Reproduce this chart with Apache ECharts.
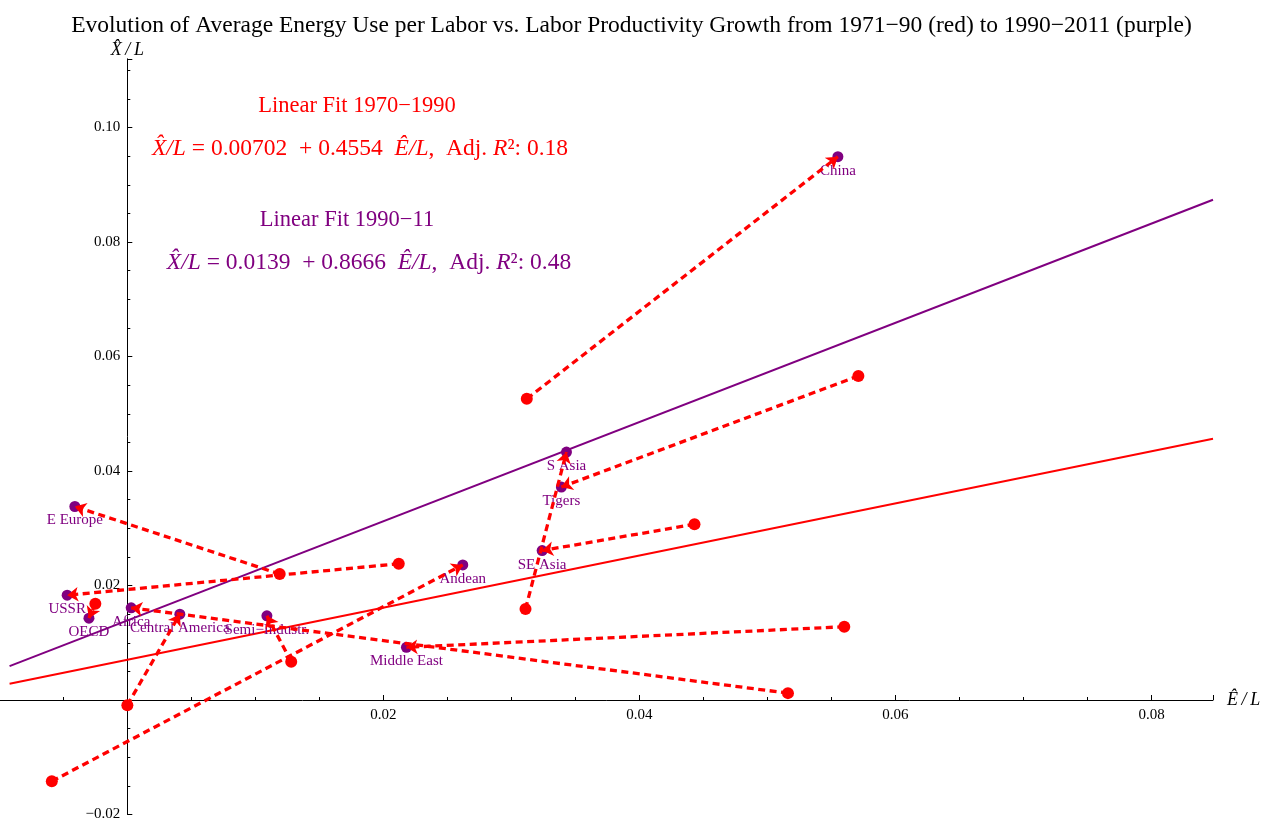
<!DOCTYPE html>
<html>
<head>
<meta charset="utf-8">
<script src="https://cdn.jsdelivr.net/npm/echarts@6/dist/echarts.min.js"></script>
<style>
html,body{margin:0;padding:0;background:#fff;}
#chart{width:1263px;height:821px;}
</style>
</head>
<body>
<div id="chart"></div>
<script>
// ---- data ----
const regions = ['China','Tigers','S Asia','SE Asia','Middle East','Andean','Semi\u2212Industr.','Central America','Africa','E Europe','USSR','OECD'];
// 1971-90 (red): energy use per labor growth (E/L) and labor productivity growth (X/L)
const e7190 = [0.0312, 0.0571, 0.0311, 0.0443, 0.0560, -0.0059, 0.0128, 0.0000, 0.0516, 0.0119, 0.0212, -0.0025];
const x7190 = [0.0526, 0.0566, 0.0159, 0.0307, 0.0128, -0.0142, 0.0067, -0.0009, 0.0012, 0.0220, 0.0238, 0.0168];
// 1990-2011 (purple)
const e9011 = [0.0555, 0.0339, 0.0343, 0.0324, 0.0218, 0.0262, 0.0109, 0.0041, 0.0003, -0.0041, -0.0047, -0.0030];
const x9011 = [0.0949, 0.0372, 0.0433, 0.0261, 0.0092, 0.0236, 0.0147, 0.0150, 0.0161, 0.0338, 0.0183, 0.0143];
// linear fits: intercept, slope
const fitRed = [0.00702, 0.4554];
const fitPurple = [0.0139, 0.8666];
const fitRange = [-0.0092, 0.0848];
// labelled ticks
const xTicks = [0.02, 0.04, 0.06, 0.08];
const yTicks = [-0.02, 0.02, 0.04, 0.06, 0.08, 0.10];

const RED = '#ff0000', PURPLE = '#800080';
const SERIF = '"Liberation Serif", "Times New Roman", serif';

function isTick(v, list){ return list.some(t => Math.abs(t - v) < 1e-9); }
function fmt(v){ return (v < 0 ? '\u2212' : '') + Math.abs(v).toFixed(2); }

const redPts = e7190.map((v,i)=>[v, x7190[i]]);
const purplePts = e9011.map((v,i)=>({value:[v, x9011[i]], name: regions[i]}));
const arrows = regions.map((r,i)=>({coords:[[e7190[i], x7190[i]], [e9011[i], x9011[i]]]}));
const fitLine = f => fitRange.map(x => [x, f[0] + f[1]*x]);

// layout (pixels)
const W = 1263, H = 821;
const GRID = {left:-128.7, right:50, top:58.8, bottom:6.5};
const X0PX = 127.3;   // where E/L = 0 sits
const Y0PX = 700;     // where X/L = 0 sits

const chart = echarts.init(document.getElementById('chart'), null, {renderer:'canvas'});

function formula(a, b, r2){
  return '{i|X\u0302/L} = ' + a + '  + ' + b + '  {i|E\u0302/L},  Adj. {i|R}\u00B2: ' + r2;
}
function textEl(text, cx, cy, color, size){
  return {
    type:'text', x: cx, y: cy, z: 10,
    style:{
      text: text, fill: color, fontFamily: SERIF, fontSize: size,
      align:'center', verticalAlign:'middle',
      rich:{ i:{ fontStyle:'italic', fontFamily: SERIF, fontSize: size, fill: color } }
    }
  };
}

const option = {
  animation:false,
  backgroundColor:'#fff',
  title:{
    text:'Evolution of Average Energy Use per Labor vs. Labor Productivity Growth from 1971\u221290 (red) to 1990\u22122011 (purple)',
    left:'center', top:9,
    textStyle:{fontFamily:SERIF, fontWeight:'normal', fontSize:23.5, color:'#000'}
  },
  grid:{left:GRID.left, right:GRID.right, top:GRID.top, bottom:GRID.bottom, containLabel:false, outerBoundsMode:'none'},
  xAxis:{
    type:'value', min:-0.02, max:0.0848, interval:0.02, position:'bottom',
    offset: -((H - GRID.bottom) - Y0PX),
    name:'E\u0302\u2009/\u2009L', nameLocation:'end', nameGap:14,
    nameTextStyle:{fontFamily:SERIF, fontStyle:'italic', fontSize:18, color:'#000', verticalAlign:'middle', padding:[6,0,0,0]},
    axisLine:{onZero:false, lineStyle:{color:'#000', width:1}},
    axisTick:{show:true, inside:true, length:5, lineStyle:{color:'#000'}},
    minorTick:{show:true, splitNumber:4, length:3, lineStyle:{color:'#000'}},
    splitLine:{show:false}, minorSplitLine:{show:false},
    axisLabel:{show:true, fontFamily:SERIF, fontSize:15, color:'#000', margin:8,
      formatter: v => isTick(v, xTicks) ? fmt(v) : ''}
  },
  yAxis:{
    type:'value', min:-0.02, max:0.112, interval:0.02, position:'left',
    offset: -(X0PX - GRID.left),
    name:'X\u0302\u2009/\u2009L', nameLocation:'end', nameGap:0,
    nameTextStyle:{fontFamily:SERIF, fontStyle:'italic', fontSize:18, color:'#000', align:'center'},
    axisLine:{onZero:false, lineStyle:{color:'#000', width:1}},
    axisTick:{show:true, inside:true, length:5, lineStyle:{color:'#000'}},
    minorTick:{show:true, splitNumber:4, length:3, lineStyle:{color:'#000'}},
    splitLine:{show:false}, minorSplitLine:{show:false},
    axisLabel:{show:true, fontFamily:SERIF, fontSize:15, color:'#000', margin:7,
      formatter: v => isTick(v, yTicks) ? fmt(v) : ''}
  },
  series:[
    {type:'line', data:fitLine(fitRed), showSymbol:false, symbol:'none',
      lineStyle:{color:RED, width:2}, z:1, silent:true},
    {type:'line', data:fitLine(fitPurple), showSymbol:false, symbol:'none',
      lineStyle:{color:PURPLE, width:2}, z:1, silent:true},
    {type:'scatter', data:redPts, symbol:'circle', symbolSize:12,
      itemStyle:{color:RED, opacity:1}, z:3},
    {type:'scatter', data:purplePts, symbol:'circle', symbolSize:11,
      itemStyle:{color:PURPLE, opacity:1}, z:3,
      label:{show:true, position:'bottom', distance:1, formatter:'{b}',
        fontFamily:SERIF, fontSize:15, color:PURPLE}},
    {type:'lines', coordinateSystem:'cartesian2d', data:arrows, z:4,
      symbol:['none','arrow'], symbolSize:11,
      lineStyle:{color:RED, width:3.3, type:[7,4.5], opacity:1, curveness:0}}
  ],
  graphic:[
    textEl('Linear Fit 1970\u22121990', 357, 106, RED, 22.5),
    textEl(formula('0.00702', '0.4554', '0.18'), 360, 149, RED, 23.5),
    textEl('Linear Fit 1990\u221211', 347, 220, PURPLE, 22.5),
    textEl(formula('0.0139', '0.8666', '0.48'), 369, 263, PURPLE, 23.5)
  ]
};
chart.setOption(option);
</script>
</body>
</html>
